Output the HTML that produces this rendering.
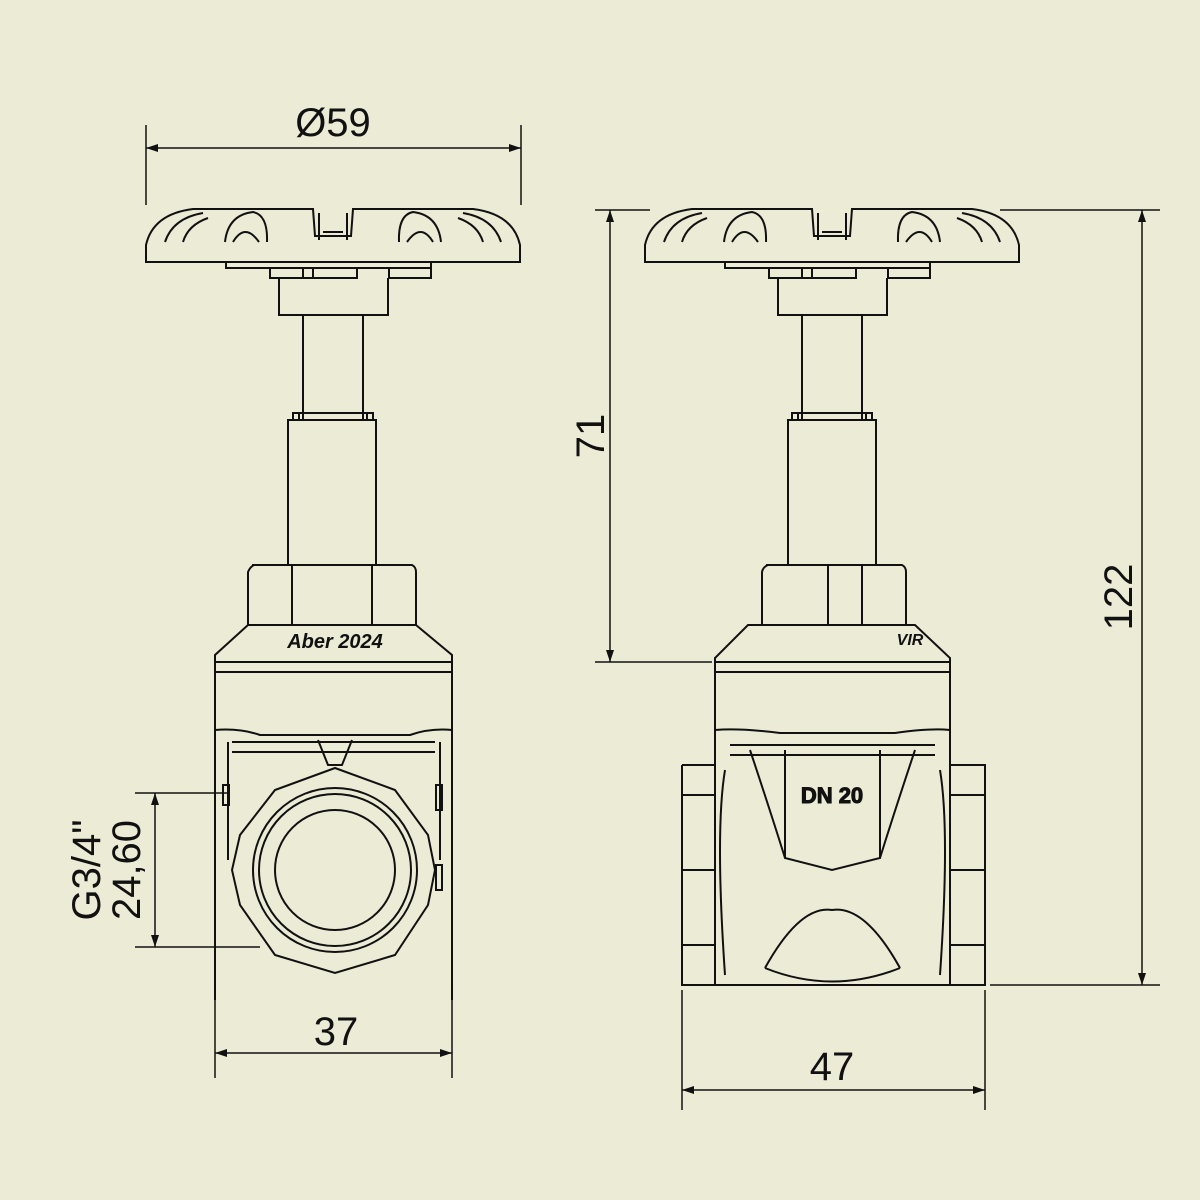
<!DOCTYPE html>
<html><head><meta charset="utf-8"><style>
html,body{margin:0;padding:0;background:#ecebd6;}
svg{display:block}
text{font-family:"Liberation Sans",sans-serif;fill:#111}
</style></head><body>
<svg width="1200" height="1200" viewBox="0 0 1200 1200" xmlns="http://www.w3.org/2000/svg">
<rect width="1200" height="1200" fill="#ecebd6"/>
<defs>
<g id="wheel" fill="none" stroke="#111" stroke-width="2">
  <path d="M-187 262 L-187 245 Q-180 214 -140 209 L-20 209 L-18 236 L18 236 L20 209 L140 209 Q180 214 187 245 L187 262 Z"/>
  <path d="M-168 242 Q-160 218 -130 213 M-150 242 Q-145 225 -125 218 M-108 242 Q-105 215 -80 212 Q-65 215 -66 242 M-100 242 Q-88 222 -74 242"/>
  <path d="M168 242 Q160 218 130 213 M150 242 Q145 225 125 218 M108 242 Q105 215 80 212 Q65 215 66 242 M100 242 Q88 222 74 242"/>
  <path d="M-14 213 L-14 240 M14 213 L14 240 M-10 232 L10 232"/>
  <path d="M-107 262 L-107 268 L-63 268 L-63 278 L24 278 L24 268 L98 268 L98 262"/>
  <path d="M-63 268 L98 268 M-30 268 L-30 278 M-20 268 L-20 278 M56 268 L56 278 L98 278 L98 268"/>
  <path d="M-54 278 L-54 315 L55 315 L55 278"/>
  <path d="M-30 315 L-30 420 M30 315 L30 420"/>
  <path d="M-40 420 L-40 413 L40 413 L40 420 M-34 413 L-34 420 M34 413 L34 420"/>
</g>
</defs>
<g fill="none" stroke="#111" stroke-width="2">
<!-- LEFT VIEW -->
<use href="#wheel" x="333"/>
<rect x="288" y="420" width="88" height="145"/>
<path d="M252 565 L412 565 Q416 567 416 572 L416 625 L248 625 L248 572 Q250 567 254 565 Z"/>
<path d="M292 565 L292 625 M372 565 L372 625"/>
<path d="M248 625 L215 655 L215 1000 M416 625 L452 655 L452 1000 M215 662 L452 662 M215 672 L452 672"/>
<path d="M215 730 Q240 728 260 735 L410 735 Q430 728 452 730 M232 742 L435 742 M232 752 L435 752 M228 742 L228 860 M440 742 L440 860"/>
<path d="M318 740 L328 765 L342 765 L352 740"/>
<path d="M335 768 L395 790 L428 835 L435 870 L428 905 L395 955 L335 973 L275 955 L240 905 L232 870 L240 835 L275 790 Z"/>
<circle cx="335" cy="870" r="82"/>
<circle cx="335" cy="870" r="76"/>
<circle cx="335" cy="870" r="60"/>
<rect x="223" y="785" width="6" height="20"/>
<rect x="436" y="785" width="6" height="25"/>
<rect x="436" y="865" width="6" height="25"/>
<!-- RIGHT VIEW -->
<use href="#wheel" x="832"/>
<rect x="788" y="420" width="88" height="145"/>
<path d="M766 565 L902 565 Q906 567 906 572 L906 625 L762 625 L762 572 Q763 567 768 565 Z"/>
<path d="M828 565 L828 625 M862 565 L862 625"/>
<path d="M748 625 L915 625 L950 658 L950 985 L715 985 L715 658 Z M715 662 L950 662 M715 672 L950 672"/>
<path d="M682 765 L715 765 M682 765 L682 985 L715 985 M950 765 L985 765 L985 985 L950 985"/>
<path d="M682 795 L715 795 M682 870 L715 870 M682 945 L715 945 M950 795 L985 795 M950 870 L985 870 M950 945 L985 945"/>
<path d="M715 730 Q740 728 780 733 L895 733 Q930 728 950 730 M730 745 L935 745 M730 755 L935 755"/>
<path d="M785 750 L785 858 L832 870 L880 858 L880 750"/>
<path d="M750 750 Q770 810 785 858 M915 750 Q895 810 880 858"/>
<path d="M725 770 Q715 830 725 975 M940 770 Q950 830 940 975"/>
<path d="M765 968 Q800 905 832 910 Q865 905 900 968 M765 968 Q832 995 900 968"/>
<!-- DIMENSIONS -->
<g stroke-width="1.5">
<path d="M146 125 L146 205 M521 125 L521 205 M146 148 L521 148"/>
<path d="M215 985 L215 1078 M452 985 L452 1078 M215 1053 L452 1053"/>
<path d="M135 793 L230 793 M135 947 L260 947 M155 793 L155 947"/>
<path d="M682 990 L682 1110 M985 990 L985 1110 M682 1090 L985 1090"/>
<path d="M595 210 L650 210 M595 662 L712 662 M610 210 L610 662"/>
<path d="M1000 210 L1160 210 M990 985 L1160 985 M1142 210 L1142 985"/>
</g>
</g>
<g fill="#111">
<path d="M146 148 l12 -4 l0 8z M521 148 l-12 -4 l0 8z"/>
<path d="M215 1053 l12 -4 l0 8z M452 1053 l-12 -4 l0 8z"/>
<path d="M155 793 l-4 12 l8 0z M155 947 l-4 -12 l8 0z"/>
<path d="M682 1090 l12 -4 l0 8z M985 1090 l-12 -4 l0 8z"/>
<path d="M610 210 l-4 12 l8 0z M610 662 l-4 -12 l8 0z"/>
<path d="M1142 210 l-4 12 l8 0z M1142 985 l-4 -12 l8 0z"/>
</g>
<text x="333" y="136" font-size="40" text-anchor="middle">Ø59</text>
<text x="336" y="1045" font-size="40" text-anchor="middle">37</text>
<text x="832" y="1080" font-size="40" text-anchor="middle">47</text>
<text transform="translate(604,436) rotate(-90)" font-size="40" text-anchor="middle">71</text>
<text transform="translate(1132,597) rotate(-90)" font-size="40" text-anchor="middle">122</text>
<text transform="translate(100,870) rotate(-90)" font-size="40" text-anchor="middle">G3/4"</text>
<text transform="translate(140,870) rotate(-90)" font-size="40" text-anchor="middle">24,60</text>
<text x="335" y="648" font-size="20" font-weight="bold" font-style="italic" text-anchor="middle">Aber 2024</text>
<text x="832" y="803" font-size="22" font-weight="bold" text-anchor="middle" fill="#ecebd6" stroke="#111" stroke-width="1">DN 20</text>
<text x="910" y="645" font-size="16" font-weight="bold" font-style="italic" text-anchor="middle">VIR</text>
</svg>
</body></html>
